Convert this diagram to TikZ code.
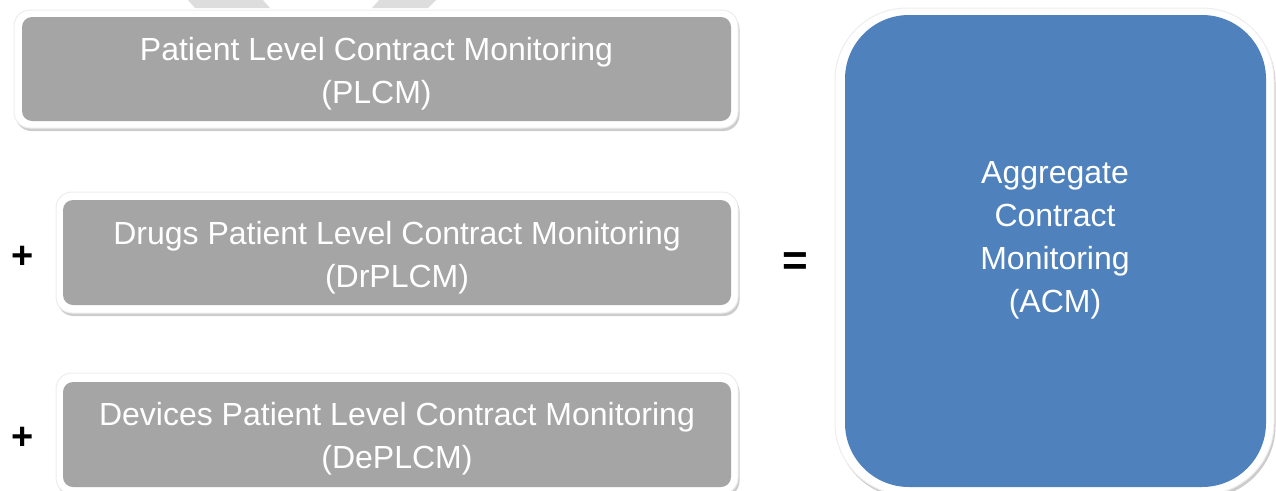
\documentclass[tikz,border=0pt]{standalone}
\usepackage{fontspec}
\setmainfont{Liberation Sans}
\usetikzlibrary{shadows}
\definecolor{boxgray}{HTML}{A5A5A5}
\definecolor{acmblue}{HTML}{4F81BD}
\definecolor{chev}{HTML}{DDDDDD}
\tikzset{
  frame/.style={rectangle, fill=white, inner sep=0pt, draw=black!7, line width=1pt,
    drop shadow={shadow xshift=1.5pt, shadow yshift=-3pt, fill=black, opacity=0.2}},
  grayframe/.style={frame, rounded corners=16pt},
  graybox/.style={rectangle, rounded corners=10pt, fill=boxgray, inner sep=0pt},
  boxtext/.style={inner sep=0pt, text=white, align=center, font=\fontsize{32}{43}\selectfont},
  sign/.style={inner sep=0pt, text=black, font=\fontsize{38}{40}\selectfont\bfseries},
}
\begin{document}
\begin{tikzpicture}[x=1pt,y=-1pt]
\useasboundingbox (0,0) rectangle (1276,490);
\clip (0,0) rectangle (1276,490);
% chevron fragments at the top
\fill[chev] (187,-1) -- (262,-1) -- (270,8) -- (195,8) -- cycle;
\fill[chev] (380,-1) -- (437,-1) -- (428,8) -- (372,8) -- cycle;
% PLCM
\node[grayframe, minimum width=724pt, minimum height=118pt] (f1) at (376,69) {};
\node[graybox, minimum width=709pt, minimum height=104pt] (plcm) at (376.5,69) {};
\node[boxtext] (plcmt) at ([yshift=-5pt]plcm.center) {Patient Level Contract Monitoring\\(PLCM)};
% DrPLCM
\node[grayframe, minimum width=682pt, minimum height=121pt] (f2) at (397,252.5) {};
\node[graybox, minimum width=668pt, minimum height=105pt] (drplcm) at (397,252.5) {};
\node[boxtext] (drplcmt) at ([yshift=-5pt]drplcm.center) {Drugs Patient Level Contract Monitoring\\(DrPLCM)};
% DePLCM
\node[grayframe, minimum width=682pt, minimum height=121pt] (f3) at (397,433.5) {};
\node[graybox, minimum width=668pt, minimum height=105pt] (deplcm) at (397,434.5) {};
\node[boxtext] (deplcmt) at ([yshift=-4pt]deplcm.center) {Devices Patient Level Contract Monitoring\\(DePLCM)};
% ACM
\node[frame, rounded corners=72pt, minimum width=439pt, minimum height=487pt] (f4) at (1054.5,251.5) {};
\node[rectangle, rounded corners=64pt, fill=acmblue, inner sep=0pt,
  minimum width=421pt, minimum height=472pt] (acmbox) at (1055.5,251) {};
\node[boxtext] (acm) at (1055,240) {Aggregate\\Contract\\Monitoring\\(ACM)};
% signs
\node[sign] (plus1) at (22.5,257) {+};
\node[sign] (plus2) at (22.5,438) {+};
\node[sign, font=\fontsize{44}{46}\selectfont\bfseries] (eq) at (795.5,264) {=};
\end{tikzpicture}
\end{document}
